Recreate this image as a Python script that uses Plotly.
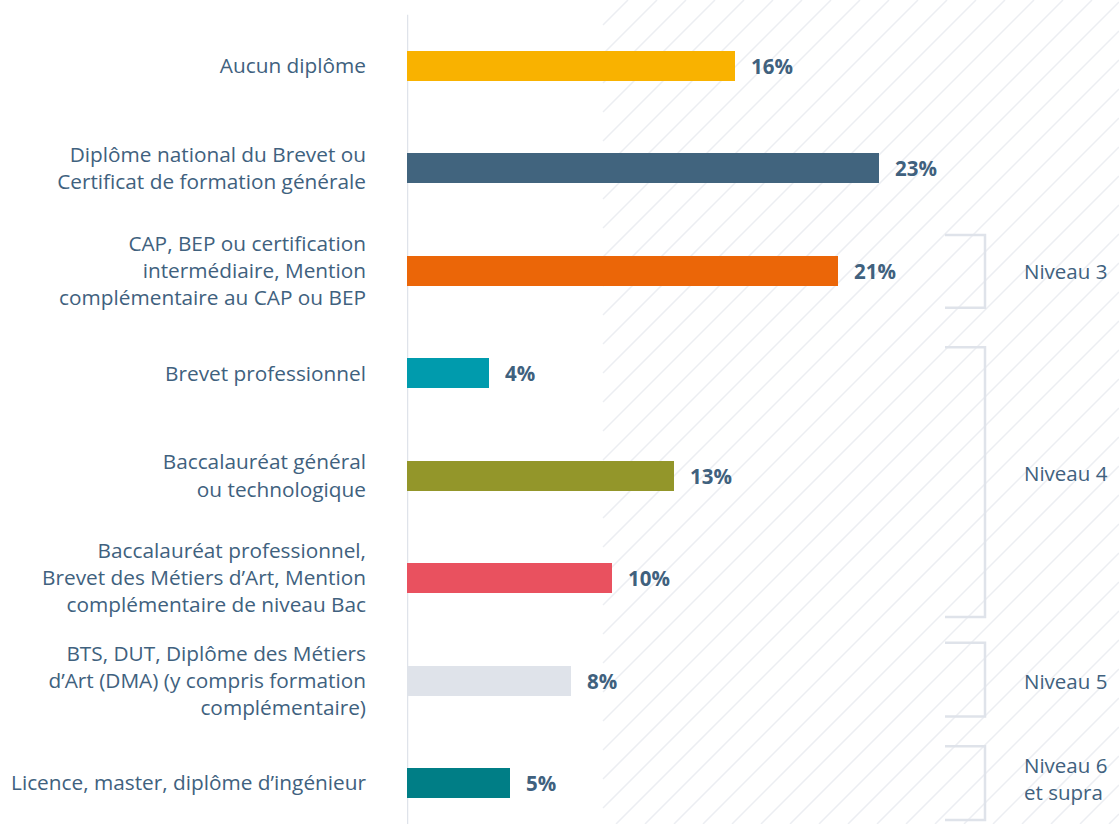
import plotly.graph_objects as go

categories = [
    "Aucun diplôme",
    "Diplôme national du Brevet ou<br>Certificat de formation générale",
    "CAP, BEP ou certification<br>intermédiaire, Mention<br>complémentaire au CAP ou BEP",
    "Brevet professionnel",
    "Baccalauréat général<br>ou technologique",
    "Baccalauréat professionnel,<br>Brevet des Métiers d’Art, Mention<br>complémentaire de niveau Bac",
    "BTS, DUT, Diplôme des Métiers<br>d’Art (DMA) (y compris formation<br>complémentaire)",
    "Licence, master, diplôme d’ingénieur",
]
values = [16, 23, 21, 4, 13, 10, 8, 5]
colors = ["#f9b200", "#41647e", "#eb6608", "#009bad", "#93962a", "#e9515f", "#dfe3ea", "#007e86"]

# Level groups: (label, first category index, last category index, label anchor index)
levels = [
    ("Niveau 3", 2, 2, 2),
    ("Niveau 4", 3, 5, 4),
    ("Niveau 5", 6, 6, 6),
    ("Niveau 6<br>et supra", 7, 7, 7),
]

TEXT = "#40617e"
GRID = "#dfe3ea"
FONT = "Open Sans"

W, H = 1119, 824
L = 407
px_per_unit = 20.5
xmax = (W - L) / px_per_unit
ymin_cat, ymax_cat = -0.644, 7.40

fig = go.Figure()
fig.add_trace(go.Bar(
    x=values, y=list(range(len(categories))), orientation="h",
    marker=dict(color=colors, line=dict(width=0)), width=0.293,
    hoverinfo="skip",
))

shapes = []
# hatched background (decorative)
def px2paper(x, y):
    return (x - L) / (W - L), 1 - y / H
x_start = 603
c = 628 - 29 * 40
while c < W + H + 29:
    y0 = max(0, c - W)
    y1 = min(H, c - x_start)
    if y1 > y0:
        p0 = px2paper(c - y0, y0)
        p1 = px2paper(c - y1, y1)
        shapes.append(dict(type="line", xref="paper", yref="paper",
                           x0=p0[0], y0=p0[1], x1=p1[0], y1=p1[1],
                           line=dict(color="#eceef2", width=1.5), layer="below"))
    c += 29

# vertical axis line
shapes.append(dict(type="line", xref="x", yref="y", x0=0, x1=0, y0=-0.5, y1=ymax_cat,
                   line=dict(color=GRID, width=2.5), layer="below"))

# brackets
bx0 = (945 - L) / px_per_unit
bx1 = (985 - L) / px_per_unit
pad_top = {2: 0.35, 3: 0.255, 6: 0.37, 7: 0.36}
pad_bot = {2: 0.36, 5: 0.38, 6: 0.35, 7: 0.36}
label_shift = {2: 0, 4: 3, 6: 0, 7: 5}
annotations = []
for label, a, b, mid in levels:
    yt = a - pad_top[a]
    yb = b + pad_bot[b]
    shapes.append(dict(type="path", xref="x", yref="y",
                       path=f"M {bx0},{yt} L {bx1},{yt} L {bx1},{yb} L {bx0},{yb}",
                       line=dict(color=GRID, width=2.5)))
    annotations.append(dict(x=(1022 - L) / px_per_unit, y=mid, xref="x", yref="y",
                            yshift=label_shift[mid],
                            text=label, showarrow=False, xanchor="left", yanchor="middle",
                            align="left", font=dict(family=FONT, size=20.5, color=TEXT)))

for i, v in enumerate(values):
    annotations.append(dict(x=v, y=i, xref="x", yref="y", text=f"<b>{v}%</b>",
                            showarrow=False, xanchor="left", yanchor="middle", xshift=14,
                            font=dict(family=FONT, size=20.5, color=TEXT)))

fig.update_layout(
    width=W, height=H,
    margin=dict(l=L, r=0, t=0, b=0),
    paper_bgcolor="white", plot_bgcolor="rgba(0,0,0,0)",
    showlegend=False,
    shapes=shapes, annotations=annotations,
    bargap=0,
    xaxis=dict(range=[0, xmax], visible=False, fixedrange=True),
    yaxis=dict(range=[ymax_cat, ymin_cat], tickmode="array",
               tickvals=list(range(len(categories))), ticktext=categories,
               showgrid=False, zeroline=False, showline=False, ticks="",
               ticklabelstandoff=40, fixedrange=True,
               tickfont=dict(family=FONT, size=20.8, color=TEXT)),
)

fig.write_html("out.html", config={"displayModeBar": False},
               post_script="document.body.style.margin='0';document.body.style.overflow='hidden';")
